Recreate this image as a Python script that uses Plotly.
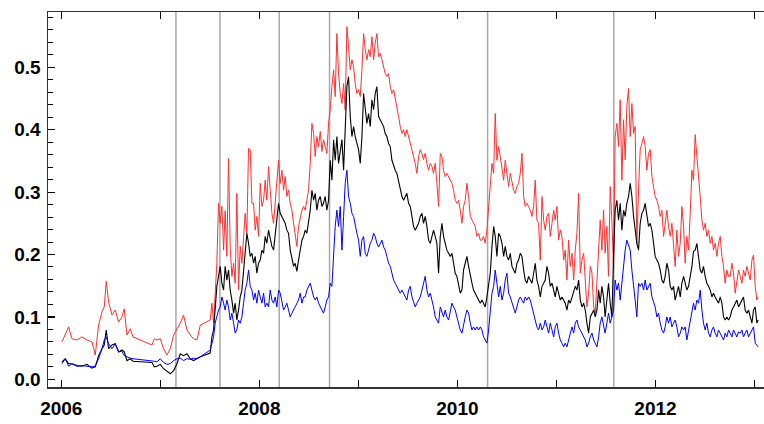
import plotly.graph_objects as go

# ---- dates (decimal years) ----
dates_a = [2006.007, 2006.040, 2006.074, 2006.108, 2006.158, 2006.209, 2006.259, 2006.310, 2006.343, 2006.377,
           2006.411, 2006.434, 2006.454, 2006.478, 2006.512, 2006.545, 2006.579, 2006.613, 2006.636, 2006.663,
           2006.697, 2006.724, 2006.916, 2006.939, 2006.966, 2007.000, 2007.033, 2007.067, 2007.101, 2007.135,
           2007.168, 2007.202, 2007.235, 2007.269, 2007.303, 2007.336, 2007.370, 2007.404]
dates_b = [2007.504, 2007.521, 2007.538, 2007.554, 2007.571, 2007.588, 2007.605, 2007.622, 2007.639, 2007.655,
           2007.672, 2007.689, 2007.706, 2007.723, 2007.740, 2007.756, 2007.773, 2007.790, 2007.807, 2007.824,
           2007.841, 2007.857, 2007.874, 2007.891, 2007.908, 2007.925, 2007.942, 2007.958, 2007.975, 2007.992,
           2008.009, 2008.026, 2008.043, 2008.059, 2008.076, 2008.093, 2008.110, 2008.127, 2008.144, 2008.160,
           2008.177, 2008.194, 2008.211, 2008.228, 2008.245, 2008.261, 2008.278, 2008.295, 2008.312, 2008.329,
           2008.346, 2008.362, 2008.379, 2008.396, 2008.413, 2008.430, 2008.447, 2008.463, 2008.480, 2008.497,
           2008.514, 2008.531, 2008.548, 2008.564, 2008.581, 2008.598, 2008.615, 2008.632, 2008.648, 2008.665,
           2008.682, 2008.699]
dates_c = [2008.716, 2008.733, 2008.750, 2008.766, 2008.783, 2008.800, 2008.817, 2008.834, 2008.851, 2008.867,
           2008.884, 2008.901, 2008.918, 2008.935, 2008.952, 2008.968, 2008.985, 2009.002, 2009.019, 2009.036,
           2009.053, 2009.069, 2009.086, 2009.103, 2009.120, 2009.137, 2009.154, 2009.170, 2009.187, 2009.204,
           2009.221, 2009.238, 2009.255, 2009.271, 2009.288, 2009.305, 2009.322, 2009.339, 2009.356, 2009.372,
           2009.389, 2009.406, 2009.423, 2009.440, 2009.457, 2009.473, 2009.490, 2009.507, 2009.524, 2009.541,
           2009.557, 2009.574, 2009.591, 2009.608, 2009.625, 2009.642, 2009.658, 2009.675, 2009.692, 2009.709,
           2009.726, 2009.743, 2009.759, 2009.776, 2009.793, 2009.810, 2009.827, 2009.844, 2009.860, 2009.877,
           2009.894, 2009.911, 2009.928, 2009.945, 2009.961, 2009.978, 2009.995, 2010.012, 2010.029, 2010.046,
           2010.062, 2010.079, 2010.096, 2010.113, 2010.130, 2010.147, 2010.163, 2010.180, 2010.197, 2010.214,
           2010.231, 2010.248, 2010.264, 2010.281, 2010.298, 2010.315]
dates_d = [2010.332, 2010.349, 2010.366, 2010.382, 2010.399, 2010.416, 2010.433, 2010.450, 2010.467, 2010.483,
           2010.500, 2010.517, 2010.534, 2010.551, 2010.568, 2010.584, 2010.601, 2010.618, 2010.635, 2010.652,
           2010.669, 2010.685, 2010.702, 2010.719, 2010.736, 2010.753, 2010.770, 2010.786, 2010.803, 2010.820,
           2010.837, 2010.854, 2010.871, 2010.887, 2010.904, 2010.921, 2010.938, 2010.955, 2010.972, 2010.988,
           2011.005, 2011.022, 2011.039, 2011.056, 2011.073, 2011.089, 2011.106, 2011.123, 2011.140, 2011.157,
           2011.174, 2011.190, 2011.207, 2011.224, 2011.241, 2011.258, 2011.275, 2011.291, 2011.308, 2011.325,
           2011.342, 2011.359, 2011.376, 2011.392, 2011.409, 2011.426]
dates_e = [2011.442, 2011.459, 2011.476, 2011.492, 2011.509, 2011.526, 2011.543, 2011.560, 2011.577, 2011.593,
           2011.610, 2011.627, 2011.644, 2011.661, 2011.678, 2011.694, 2011.711, 2011.728, 2011.745, 2011.762,
           2011.779, 2011.795, 2011.812, 2011.829, 2011.846, 2011.863, 2011.880, 2011.896, 2011.913, 2011.930,
           2011.947, 2011.964, 2011.981, 2011.997, 2012.014, 2012.031, 2012.048, 2012.065, 2012.082, 2012.098,
           2012.115, 2012.132, 2012.149, 2012.166, 2012.183, 2012.199, 2012.216, 2012.233, 2012.250, 2012.267,
           2012.284, 2012.300, 2012.317, 2012.334, 2012.351, 2012.368, 2012.384, 2012.401, 2012.418, 2012.435,
           2012.452, 2012.469, 2012.485, 2012.502, 2012.519, 2012.536, 2012.553, 2012.570, 2012.586, 2012.603,
           2012.620, 2012.637, 2012.654, 2012.671, 2012.687, 2012.704, 2012.721, 2012.738, 2012.755, 2012.772,
           2012.788, 2012.805, 2012.822, 2012.839, 2012.856, 2012.873, 2012.889, 2012.906, 2012.923, 2012.940,
           2012.957, 2012.974, 2012.990, 2013.007, 2013.024, 2013.037]

# ---- red series ----
red_a = [0.060, 0.071, 0.084, 0.065, 0.063, 0.068, 0.063, 0.060, 0.039, 0.087,
         0.108, 0.116, 0.157, 0.124, 0.103, 0.111, 0.092, 0.100, 0.113, 0.071,
         0.081, 0.068, 0.055, 0.065, 0.063, 0.065, 0.049, 0.039, 0.049, 0.071,
         0.080, 0.090, 0.103, 0.079, 0.071, 0.065, 0.063, 0.087]
red_b = [0.095, 0.122, 0.090, 0.143, 0.186, 0.282, 0.250, 0.277, 0.207, 0.270,
         0.197, 0.354, 0.210, 0.165, 0.186, 0.154, 0.298, 0.143, 0.213, 0.186,
         0.223, 0.266, 0.234, 0.370, 0.368, 0.282, 0.282, 0.239, 0.261, 0.229,
         0.314, 0.277, 0.287, 0.319, 0.287, 0.341, 0.303, 0.266, 0.250, 0.282,
         0.309, 0.351, 0.314, 0.335, 0.303, 0.325, 0.293, 0.303, 0.282, 0.271,
         0.250, 0.229, 0.213, 0.245, 0.261, 0.271, 0.277, 0.271, 0.287, 0.303,
         0.346, 0.410, 0.394, 0.357, 0.389, 0.373, 0.397, 0.365, 0.384, 0.373,
         0.362, 0.410]
red_c = [0.432, 0.469, 0.496, 0.453, 0.554, 0.490, 0.458, 0.442, 0.474, 0.432,
         0.565, 0.533, 0.496, 0.512, 0.501, 0.474, 0.458, 0.464, 0.453, 0.496,
         0.554, 0.528, 0.512, 0.528, 0.517, 0.549, 0.512, 0.538, 0.554, 0.517,
         0.522, 0.512, 0.501, 0.490, 0.485, 0.490, 0.469, 0.458, 0.464, 0.448,
         0.432, 0.421, 0.405, 0.394, 0.400, 0.389, 0.400, 0.389, 0.378, 0.368,
         0.357, 0.346, 0.330, 0.357, 0.368, 0.362, 0.352, 0.362, 0.346, 0.335,
         0.346, 0.341, 0.330, 0.346, 0.314, 0.277, 0.362, 0.357, 0.335, 0.325,
         0.330, 0.325, 0.319, 0.314, 0.303, 0.287, 0.282, 0.287, 0.271, 0.250,
         0.277, 0.287, 0.314, 0.293, 0.261, 0.255, 0.250, 0.245, 0.229, 0.234,
         0.223, 0.223, 0.229, 0.218, 0.239, 0.277]
red_d = [0.303, 0.346, 0.330, 0.426, 0.351, 0.373, 0.357, 0.341, 0.319, 0.351,
         0.325, 0.309, 0.330, 0.319, 0.303, 0.298, 0.309, 0.314, 0.330, 0.362,
         0.293, 0.277, 0.282, 0.277, 0.271, 0.261, 0.277, 0.319, 0.255, 0.250,
         0.191, 0.293, 0.255, 0.239, 0.261, 0.266, 0.229, 0.250, 0.271, 0.255,
         0.277, 0.223, 0.239, 0.229, 0.191, 0.207, 0.159, 0.223, 0.181, 0.202,
         0.159, 0.207, 0.234, 0.298, 0.170, 0.191, 0.202, 0.159, 0.116, 0.138,
         0.181, 0.170, 0.116, 0.106, 0.154, 0.213]
red_e = [0.255, 0.207, 0.271, 0.202, 0.245, 0.165, 0.309, 0.255, 0.175, 0.389,
         0.410, 0.373, 0.448, 0.319, 0.416, 0.352, 0.437, 0.466, 0.389, 0.442,
         0.394, 0.405, 0.218, 0.303, 0.368, 0.378, 0.389, 0.373, 0.335, 0.362,
         0.368, 0.325, 0.309, 0.293, 0.287, 0.277, 0.261, 0.271, 0.229, 0.255,
         0.271, 0.245, 0.229, 0.250, 0.213, 0.181, 0.239, 0.197, 0.218, 0.277,
         0.245, 0.186, 0.229, 0.207, 0.266, 0.335, 0.319, 0.392, 0.357, 0.330,
         0.293, 0.255, 0.239, 0.250, 0.229, 0.239, 0.218, 0.229, 0.207, 0.218,
         0.197, 0.218, 0.229, 0.197, 0.181, 0.154, 0.175, 0.165, 0.165, 0.186,
         0.170, 0.138, 0.159, 0.175, 0.165, 0.154, 0.175, 0.165, 0.181, 0.170,
         0.159, 0.191, 0.199, 0.149, 0.127, 0.132]

# ---- black series ----
black_a = [0.028, 0.033, 0.025, 0.025, 0.022, 0.021, 0.024, 0.018, 0.020, 0.038,
           0.049, 0.055, 0.079, 0.049, 0.055, 0.057, 0.044, 0.047, 0.044, 0.030,
           0.033, 0.029, 0.027, 0.020, 0.021, 0.024, 0.017, 0.013, 0.009, 0.014,
           0.025, 0.041, 0.038, 0.041, 0.033, 0.030, 0.033, 0.036]
black_b = [0.042, 0.068, 0.079, 0.122, 0.149, 0.165, 0.181, 0.154, 0.143, 0.181,
           0.159, 0.175, 0.143, 0.127, 0.106, 0.122, 0.095, 0.111, 0.132, 0.143,
           0.175, 0.207, 0.234, 0.218, 0.197, 0.202, 0.186, 0.197, 0.170, 0.186,
           0.191, 0.207, 0.202, 0.229, 0.218, 0.239, 0.223, 0.213, 0.207, 0.234,
           0.250, 0.282, 0.266, 0.261, 0.255, 0.250, 0.239, 0.234, 0.207, 0.191,
           0.181, 0.186, 0.173, 0.191, 0.207, 0.223, 0.229, 0.239, 0.234, 0.250,
           0.271, 0.303, 0.287, 0.298, 0.271, 0.287, 0.293, 0.277, 0.282, 0.293,
           0.271, 0.287]
black_c = [0.351, 0.319, 0.384, 0.351, 0.389, 0.346, 0.368, 0.384, 0.335, 0.416,
           0.469, 0.485, 0.421, 0.389, 0.405, 0.389, 0.378, 0.368, 0.346, 0.389,
           0.458, 0.432, 0.410, 0.426, 0.405, 0.448, 0.432, 0.458, 0.469, 0.421,
           0.416, 0.410, 0.405, 0.394, 0.389, 0.378, 0.373, 0.351, 0.341, 0.335,
           0.330, 0.319, 0.303, 0.293, 0.287, 0.293, 0.298, 0.282, 0.277, 0.261,
           0.245, 0.239, 0.245, 0.250, 0.261, 0.266, 0.250, 0.261, 0.245, 0.223,
           0.218, 0.229, 0.239, 0.229, 0.218, 0.170, 0.229, 0.250, 0.229, 0.218,
           0.207, 0.202, 0.197, 0.202, 0.186, 0.170, 0.165, 0.149, 0.138, 0.143,
           0.175, 0.186, 0.197, 0.181, 0.170, 0.154, 0.143, 0.138, 0.132, 0.127,
           0.122, 0.127, 0.122, 0.116, 0.132, 0.154]
black_d = [0.170, 0.213, 0.245, 0.229, 0.197, 0.234, 0.229, 0.218, 0.197, 0.213,
           0.197, 0.191, 0.202, 0.181, 0.175, 0.170, 0.186, 0.191, 0.202, 0.197,
           0.175, 0.159, 0.154, 0.165, 0.159, 0.154, 0.170, 0.186, 0.159, 0.149,
           0.132, 0.149, 0.154, 0.159, 0.181, 0.170, 0.149, 0.154, 0.143, 0.132,
           0.149, 0.138, 0.127, 0.132, 0.127, 0.122, 0.111, 0.127, 0.122, 0.132,
           0.138, 0.149, 0.143, 0.159, 0.127, 0.116, 0.122, 0.111, 0.090, 0.074,
           0.100, 0.106, 0.111, 0.100, 0.111, 0.143]
black_e = [0.122, 0.149, 0.132, 0.100, 0.127, 0.154, 0.122, 0.100, 0.197, 0.271,
           0.287, 0.255, 0.282, 0.239, 0.271, 0.261, 0.282, 0.293, 0.314, 0.293,
           0.261, 0.239, 0.218, 0.207, 0.250, 0.266, 0.271, 0.282, 0.261, 0.245,
           0.250, 0.239, 0.218, 0.197, 0.191, 0.186, 0.175, 0.159, 0.154, 0.165,
           0.186, 0.175, 0.149, 0.143, 0.149, 0.127, 0.138, 0.149, 0.132, 0.154,
           0.165, 0.154, 0.143, 0.149, 0.165, 0.181, 0.205, 0.207, 0.218, 0.197,
           0.175, 0.170, 0.181, 0.165, 0.154, 0.149, 0.143, 0.132, 0.138, 0.132,
           0.127, 0.122, 0.132, 0.122, 0.100, 0.095, 0.100, 0.095, 0.100, 0.111,
           0.116, 0.122, 0.127, 0.116, 0.122, 0.127, 0.132, 0.111, 0.106, 0.111,
           0.100, 0.090, 0.111, 0.116, 0.090, 0.095]

# ---- blue series ----
blue_a = [0.025, 0.033, 0.021, 0.025, 0.021, 0.022, 0.021, 0.020, 0.021, 0.033,
          0.049, 0.063, 0.068, 0.057, 0.049, 0.057, 0.044, 0.045, 0.038, 0.036,
          0.034, 0.033, 0.030, 0.029, 0.028, 0.033, 0.027, 0.024, 0.025, 0.030,
          0.033, 0.034, 0.030, 0.033, 0.032, 0.034, 0.033, 0.036]
blue_b = [0.047, 0.058, 0.068, 0.090, 0.100, 0.111, 0.116, 0.132, 0.122, 0.111,
          0.127, 0.116, 0.095, 0.106, 0.090, 0.074, 0.079, 0.095, 0.090, 0.100,
          0.122, 0.143, 0.154, 0.175, 0.149, 0.143, 0.127, 0.138, 0.122, 0.143,
          0.132, 0.122, 0.138, 0.116, 0.122, 0.116, 0.143, 0.127, 0.122, 0.132,
          0.116, 0.143, 0.138, 0.127, 0.111, 0.116, 0.122, 0.111, 0.100, 0.106,
          0.111, 0.116, 0.122, 0.127, 0.138, 0.122, 0.132, 0.132, 0.143, 0.149,
          0.154, 0.143, 0.132, 0.127, 0.132, 0.122, 0.116, 0.111, 0.106, 0.116,
          0.127, 0.132]
blue_c = [0.154, 0.149, 0.197, 0.245, 0.271, 0.245, 0.277, 0.207, 0.261, 0.314,
          0.335, 0.293, 0.282, 0.266, 0.261, 0.245, 0.234, 0.223, 0.197, 0.223,
          0.229, 0.202, 0.197, 0.207, 0.218, 0.223, 0.234, 0.229, 0.218, 0.212,
          0.218, 0.223, 0.212, 0.207, 0.197, 0.186, 0.181, 0.170, 0.159, 0.154,
          0.149, 0.143, 0.138, 0.143, 0.138, 0.132, 0.127, 0.143, 0.149, 0.132,
          0.122, 0.116, 0.122, 0.127, 0.132, 0.143, 0.154, 0.165, 0.143, 0.132,
          0.138, 0.127, 0.116, 0.100, 0.095, 0.090, 0.116, 0.106, 0.100, 0.111,
          0.100, 0.095, 0.111, 0.122, 0.116, 0.111, 0.100, 0.090, 0.079, 0.074,
          0.090, 0.100, 0.111, 0.106, 0.090, 0.079, 0.084, 0.079, 0.084, 0.079,
          0.084, 0.079, 0.068, 0.063, 0.058, 0.079]
blue_d = [0.106, 0.138, 0.149, 0.175, 0.154, 0.132, 0.149, 0.127, 0.138, 0.159,
          0.170, 0.138, 0.132, 0.122, 0.111, 0.106, 0.116, 0.127, 0.132, 0.127,
          0.122, 0.132, 0.127, 0.132, 0.127, 0.116, 0.106, 0.095, 0.084, 0.079,
          0.090, 0.079, 0.084, 0.095, 0.084, 0.074, 0.090, 0.079, 0.068, 0.084,
          0.090, 0.074, 0.063, 0.058, 0.052, 0.058, 0.052, 0.063, 0.074, 0.084,
          0.074, 0.090, 0.095, 0.084, 0.079, 0.074, 0.068, 0.063, 0.052, 0.058,
          0.068, 0.074, 0.063, 0.058, 0.052, 0.068]
blue_e = [0.090, 0.100, 0.084, 0.074, 0.090, 0.106, 0.090, 0.100, 0.111, 0.159,
          0.143, 0.154, 0.127, 0.154, 0.186, 0.207, 0.223, 0.213, 0.207, 0.175,
          0.143, 0.127, 0.100, 0.154, 0.149, 0.154, 0.143, 0.159, 0.143, 0.149,
          0.154, 0.132, 0.122, 0.116, 0.100, 0.106, 0.090, 0.079, 0.074, 0.084,
          0.100, 0.090, 0.100, 0.084, 0.090, 0.095, 0.084, 0.068, 0.074, 0.084,
          0.079, 0.084, 0.063, 0.079, 0.090, 0.111, 0.122, 0.111, 0.127, 0.122,
          0.143, 0.111, 0.090, 0.079, 0.090, 0.074, 0.068, 0.079, 0.084, 0.074,
          0.068, 0.079, 0.074, 0.068, 0.063, 0.074, 0.068, 0.079, 0.074, 0.068,
          0.079, 0.074, 0.068, 0.076, 0.074, 0.079, 0.068, 0.074, 0.079, 0.068,
          0.074, 0.079, 0.084, 0.058, 0.055, 0.052]

# ---- event dates (vertical lines) ----
event_dates = [2007.158, 2007.602, 2008.201, 2008.709, 2010.305, 2011.579]

# ---- axis ticks ----
x_tickvals = [2006, 2007, 2008, 2009, 2010, 2011, 2012, 2013]
x_ticktext = ["2006", "", "2008", "", "2010", "", "2012", ""]
y_tickvals = [0.0, 0.1, 0.2, 0.3, 0.4, 0.5]
y_ticktext = ["0.0", "0.1", "0.2", "0.3", "0.4", "0.5"]

dates = dates_a + dates_b + dates_c + dates_d + dates_e
red = red_a + red_b + red_c + red_d + red_e
black = black_a + black_b + black_c + black_d + black_e
blue = blue_a + blue_b + blue_c + blue_d + blue_e
assert len(dates) == len(red) == len(black) == len(blue), (len(dates), len(red), len(black), len(blue))

fig = go.Figure()
for vals, col, w in [(red, "#ff3030", 1.0), (black, "#000000", 1.1), (blue, "#0000ff", 1.0)]:
    fig.add_trace(go.Scatter(x=dates, y=vals, mode="lines",
                             line=dict(color=col, width=w), showlegend=False,
                             hoverinfo="skip"))

for d in event_dates:
    fig.add_shape(type="line", xref="x", yref="paper", x0=d, x1=d, y0=0, y1=1,
                  line=dict(color="#a8a8a8", width=1.5), layer="below")

tickfont = dict(family="Liberation Sans, Arial, sans-serif", size=19, color="black", weight="bold")

fig.update_layout(
    width=764, height=424,
    margin=dict(l=48, r=0, t=12, b=37, autoexpand=False),
    paper_bgcolor="white", plot_bgcolor="white",
    hovermode=False,
    xaxis=dict(range=[2005.866, 2013.096], tickmode="array", tickvals=x_tickvals,
               ticktext=x_ticktext, ticks="inside", ticklen=7, tickwidth=1.2,
               tickcolor="black", showline=True, linecolor="#333333", linewidth=1.5,
               mirror="ticks", showgrid=False, zeroline=False, tickfont=tickfont,
               automargin=False, ticklabelstandoff=4),
    yaxis=dict(range=[-0.0123, 0.5886], tickmode="array", tickvals=y_tickvals,
               ticktext=y_ticktext, ticks="inside", ticklen=7, tickwidth=1.2,
               tickcolor="black", showline=True, linecolor="#333333", linewidth=1.5,
               mirror=False, showgrid=False, zeroline=False, tickfont=tickfont,
               automargin=False, ticklabelstandoff=2,
               minor=dict(tickmode="linear", tick0=0, dtick=0.02, ticks="inside",
                          ticklen=5, tickwidth=1, tickcolor="black", showgrid=False)),
)

# remove the browser's default page margin so the 764x424 figure fills the window exactly
fig.write_html("out.html",
               config={"displayModeBar": False, "staticPlot": True},
               post_script="document.body.style.margin='0';document.body.style.overflow='hidden';")
